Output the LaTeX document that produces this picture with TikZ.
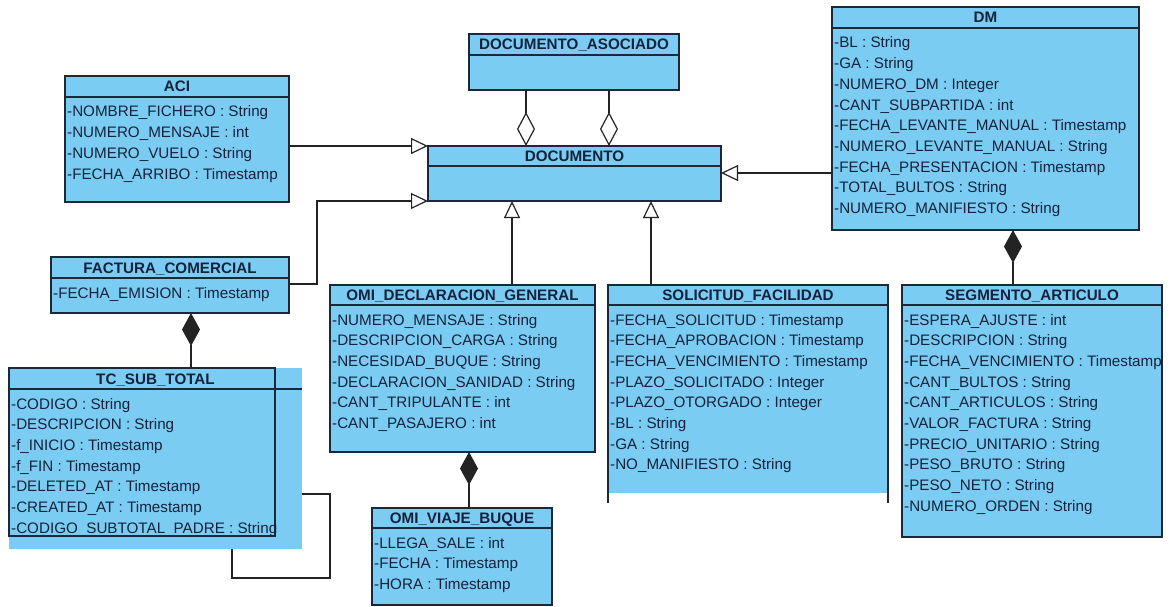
\documentclass[tikz,border=0pt]{standalone}
\usepackage{fontspec}
\setmainfont{Liberation Sans}
\usetikzlibrary{arrows.meta,fit}

\definecolor{umlfill}{RGB}{122,204,242}
\definecolor{umledge}{RGB}{28,40,58}
\definecolor{umltext}{RGB}{22,34,60}
\definecolor{wire}{RGB}{35,35,35}

\tikzset{
  umlbox/.style={rectangle, draw=umledge, fill=umlfill, line width=1.2pt, inner sep=0pt, outer sep=0pt},
  umlpanel/.style={rectangle, fill=umlfill, draw=none, inner sep=0pt, outer sep=0pt},
  umlrule/.style={draw=umledge, line width=1.2pt},
  umltitle/.style={anchor=base, inner sep=0pt, text=umltext, font=\fontsize{15.2}{18}\selectfont\bfseries},
  umlattr/.style={anchor=base west, inner sep=0pt, text=umltext, font=\fontsize{15.2}{18}\selectfont},
  wireline/.style={draw=wire, line width=1.2pt},
  gen/.style={wireline, -{Triangle[open, length=17pt, width=16pt, fill=white]}},
  agg/.style={wireline, -{Diamond[open, length=34pt, width=18pt, fill=white]}},
  comp/.style={wireline, -{Diamond[length=33pt, width=18pt]}},
}

% attribute rows: #1 class name, #2 left x, #3 y of header rule, #4 entries
\newcommand\attrlist[4]{%
  \foreach \entry [count=\k] in {#4}
    \node[umlattr] (#1-a\k) at ({#2+2},{#3+20+20.7*(\k-1)}) {\entry};}

\begin{document}
\begin{tikzpicture}[x=1pt,y=-1pt]
\useasboundingbox (0,0) rectangle (1172,607);

% ---------- ACI ----------
\node[umlbox, fit={(65,76) (289,202)}] (aci) {};
\draw[umlrule] (aci.west |- 0,97) -- (aci.east |- 0,97);
\node[umltitle] (aci-t) at (aci.north |- 0,92) {ACI};
\attrlist{aci}{65}{97}{-NOMBRE\_FICHERO : String, -NUMERO\_MENSAJE : int, -NUMERO\_VUELO : String, -FECHA\_ARRIBO : Timestamp}

% ---------- DOCUMENTO_ASOCIADO ----------
\node[umlbox, fit={(469,34) (679,90)}] (das) {};
\draw[umlrule] (das.west |- 0,55) -- (das.east |- 0,55);
\node[umltitle] (das-t) at (das.north |- 0,50) {DOCUMENTO\_ASOCIADO};

% ---------- DOCUMENTO ----------
\node[umlbox, fit={(428,146) (721,201)}] (doc) {};
\draw[umlrule] (doc.west |- 0,166) -- (doc.east |- 0,166);
\node[umltitle] (doc-t) at (doc.north |- 0,161) {DOCUMENTO};

% ---------- DM ----------
\node[umlbox, fit={(832,7) (1139,230)}] (dm) {};
\draw[umlrule] (dm.west |- 0,28) -- (dm.east |- 0,28);
\node[umltitle] (dm-t) at (dm.north |- 0,23) {DM};
\attrlist{dm}{832}{28}{-BL : String, -GA : String, -NUMERO\_DM : Integer, -CANT\_SUBPARTIDA : int, -FECHA\_LEVANTE\_MANUAL : Timestamp, -NUMERO\_LEVANTE\_MANUAL : String, -FECHA\_PRESENTACION : Timestamp, -TOTAL\_BULTOS : String, -NUMERO\_MANIFIESTO : String}

% ---------- FACTURA_COMERCIAL ----------
\node[umlbox, fit={(51,257) (289,313)}] (fac) {};
\draw[umlrule] (fac.west |- 0,278) -- (fac.east |- 0,278);
\node[umltitle] (fac-t) at (fac.north |- 0,273) {FACTURA\_COMERCIAL};
\attrlist{fac}{51}{278}{-FECHA\_EMISION : Timestamp}

% ---------- TC_SUB_TOTAL (panel wider than its frame) ----------
\node[umlpanel, fit={(9,368) (302,549)}] (tcfill) {};
\node[umlbox, fill=none, fit={(9,368) (275,536)}] (tc) {};
\draw[umlrule] (tc.west |- 0,389) -- (tcfill.east |- 0,389);
\node[umltitle] (tc-t) at (tcfill.north |- 0,384) {TC\_SUB\_TOTAL};
\attrlist{tc}{9}{389}{-CODIGO : String, -DESCRIPCION : String, -f\_INICIO : Timestamp, -f\_FIN : Timestamp, -DELETED\_AT : Timestamp, -CREATED\_AT : Timestamp, -CODIGO\_SUBTOTAL\_PADRE : String}

% ---------- OMI_DECLARACION_GENERAL ----------
\node[umlbox, fit={(330,285) (595,452)}] (omi) {};
\draw[umlrule] (omi.west |- 0,305) -- (omi.east |- 0,305);
\node[umltitle] (omi-t) at (omi.north |- 0,300) {OMI\_DECLARACION\_GENERAL};
\attrlist{omi}{330}{305}{-NUMERO\_MENSAJE : String, -DESCRIPCION\_CARGA : String, -NECESIDAD\_BUQUE : String, -DECLARACION\_SANIDAD : String, -CANT\_TRIPULANTE : int, -CANT\_PASAJERO : int}

% ---------- OMI_VIAJE_BUQUE ----------
\node[umlbox, fit={(372,508) (552,605)}] (ovb) {};
\draw[umlrule] (ovb.west |- 0,528) -- (ovb.east |- 0,528);
\node[umltitle] (ovb-t) at (ovb.north |- 0,523) {OMI\_VIAJE\_BUQUE};
\attrlist{ovb}{372}{528}{-LLEGA\_SALE : int, -FECHA : Timestamp, -HORA : Timestamp}

% ---------- SOLICITUD_FACILIDAD (open at the bottom) ----------
\node[umlpanel, fit={(608,285) (888,493)}] (sol) {};
\draw[umlrule] (608,503) -- (sol.north west) -- (sol.north east) -- (888,503);
\draw[umlrule] (sol.west |- 0,305) -- (sol.east |- 0,305);
\node[umltitle] (sol-t) at (sol.north |- 0,300) {SOLICITUD\_FACILIDAD};
\attrlist{sol}{608}{305}{-FECHA\_SOLICITUD : Timestamp, -FECHA\_APROBACION : Timestamp, -FECHA\_VENCIMIENTO : Timestamp, -PLAZO\_SOLICITADO : Integer, -PLAZO\_OTORGADO : Integer, -BL : String, -GA : String, -NO\_MANIFIESTO : String}

% ---------- SEGMENTO_ARTICULO ----------
\node[umlbox, fit={(902,285) (1162,537)}] (seg) {};
\draw[umlrule] (seg.west |- 0,305) -- (seg.east |- 0,305);
\node[umltitle] (seg-t) at (seg.north |- 0,300) {SEGMENTO\_ARTICULO};
\attrlist{seg}{902}{305}{-ESPERA\_AJUSTE : int, -DESCRIPCION : String, -FECHA\_VENCIMIENTO : Timestamp, -CANT\_BULTOS : String, -CANT\_ARTICULOS : String, -VALOR\_FACTURA : String, -PRECIO\_UNITARIO : String, -PESO\_BRUTO : String, -PESO\_NETO : String, -NUMERO\_ORDEN : String}

% ---------- generalizations ----------
\draw[gen] (aci.east |- 0,146) -- (doc.north west);
\draw[gen] (fac.east |- 0,284) -| (317,201) -- (doc.south west);
\draw[gen] (dm.west |- 0,173) -- (doc.east |- 0,173);
\draw[gen] (omi.north -| 512,0) -- (doc.south -| 512,0);
\draw[gen] (sol.north -| 651,0) -- (doc.south -| 651,0);

% ---------- aggregations ----------
\draw[agg] (das.south -| 526,0) -- (doc.north -| 526,0);
\draw[agg] (das.south -| 609,0) -- (doc.north -| 609,0);

% ---------- compositions ----------
\draw[comp] (seg.north -| 1013,0) -- (dm.south -| 1013,0);
\draw[comp] (tc.north -| 191,0) -- (fac.south -| 191,0);
\draw[comp] (ovb.north -| 469,0) -- (omi.south -| 469,0);

% ---------- self association of TC_SUB_TOTAL ----------
\draw[wireline] (tcfill.east |- 0,494) -| (330,578) -| (tcfill.south -| 232,0);

\end{tikzpicture}
\end{document}
